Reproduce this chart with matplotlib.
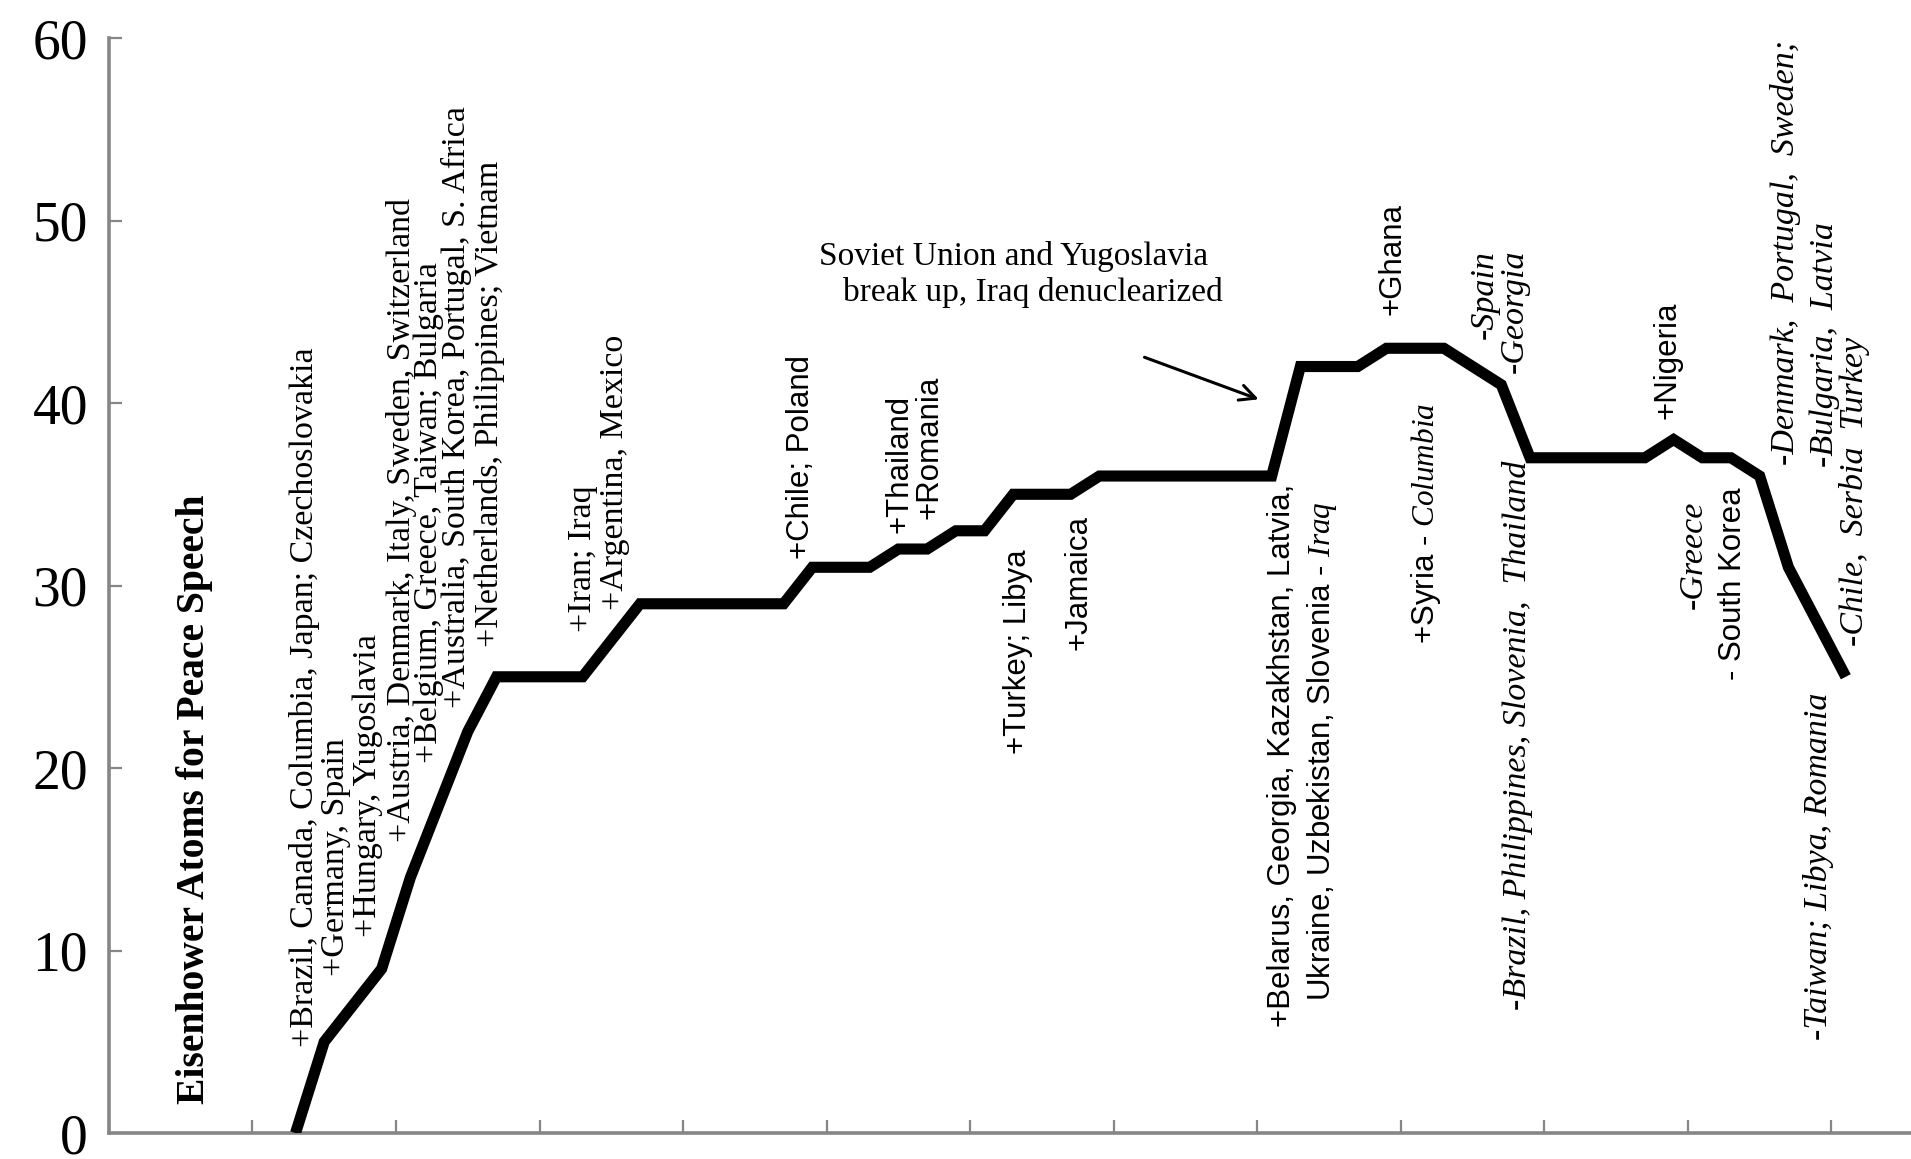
import matplotlib
matplotlib.use("Agg")
import matplotlib.pyplot as plt

# ---------------- data ----------------
years = list(range(1955, 2010))
members = [0, 5, 7, 9, 14, 18, 22, 25, 25, 25, 25, 27, 29, 29, 29, 29, 29, 29,
           31, 31, 31, 32, 32, 33, 33, 35, 35, 35, 36, 36, 36, 36, 36, 36, 36,
           42, 42, 42, 43, 43, 43, 42, 41, 37, 37, 37, 37, 37, 38, 37, 37, 36,
           31, 28, 25]
y_ticks = [0, 10, 20, 30, 40, 50, 60]
y_label = "Eisenhower Atoms for Peace Speech"
callout_lines = ["Soviet Union and Yugoslavia", "break up, Iraq denuclearized"]

# rotated annotations: text, x offset (years after 1955), y, vertical anchor, style
notes = [
    ("+Brazil, Canada, Columbia, Japan; Czechoslovakia", 0.30, 4.72, "bottom", "serif"),
    ("+Germany, Spain", 1.41, 8.6, "bottom", "serif"),
    ("+Hungary, Yugoslavia", 2.51, 10.74, "bottom", "serif"),
    ("+Austria, Denmark, Italy, Sweden, Switzerland", 3.70, 15.95, "bottom", "serif"),
    ("+Belgium, Greece, Taiwan; Bulgaria", 4.64, 20.3, "bottom", "serif"),
    ("+Australia, South Korea, Portugal, S. Africa", 5.61, 23.3, "bottom", "serif"),
    ("+Netherlands, Philippines; Vietnam", 6.76, 26.65, "bottom", "serif"),
    ("+Iran; Iraq", 9.99, 27.45, "bottom", "serif"),
    ("+Argentina, Mexico", 11.13, 28.65, "bottom", "serif"),
    ("+Chile; Poland", 17.59, 31.46, "bottom", "sans"),
    ("+Thailand", 21.03, 32.87, "bottom", "sans"),
    ("+Romania", 22.09, 33.67, "bottom", "sans"),
    ("+Turkey; Libya", 25.15, 20.77, "bottom", "sans"),
    ("+Jamaica", 27.27, 26.45, "bottom", "sans"),
    ("+Belarus, Georgia, Kazakhstan, Latvia,", 34.36, 5.79, "bottom", "sans"),
    (r"Ukraine, Uzbekistan, Slovenia - $\mathit{Iraq}$", 35.76, 7.26, "bottom", "sans"),
    ("+Ghana", 38.22, 44.83, "bottom", "sans"),
    (r"+Syria - $\mathit{Columbia}$", 39.37, 26.78, "bottom", "sans"),
    ("-Spain", 41.41, 48.4, "top", "italic"),
    ("-Georgia", 42.47, 48.4, "top", "italic"),
    ("-Brazil, Philippines, Slovenia,  Thailand", 42.55, 6.73, "bottom", "italic"),
    ("+Nigeria", 47.78, 39.1, "bottom", "sans"),
    ("-Greece", 48.71, 28.7, "bottom", "italic"),
    ("- South Korea", 50.07, 24.8, "bottom", "sans"),
    ("-Denmark,  Portugal,  Sweden;", 51.9, 36.6, "bottom", "italic"),
    ("-Bulgaria,  Latvia", 53.25, 36.5, "bottom", "italic"),
    ("-Chile,  Serbia  Turkey", 54.31, 26.7, "bottom", "italic"),
    ("-Taiwan; Libya, Romania", 53.04, 5.12, "bottom", "italic"),
]

# ---------------- style ----------------
plt.rcParams["mathtext.fontset"] = "custom"
plt.rcParams["mathtext.it"] = "Liberation Serif:italic"
plt.rcParams["mathtext.rm"] = "Liberation Serif"

SERIF = "Liberation Serif"
SANS = "Liberation Sans"
AXIS_GREY = "#868686"

fig = plt.figure(figsize=(19.11, 11.59), dpi=100)
ax = fig.add_axes([0.057, 0.0224, 0.943, 0.9448])

base = years[0]
ax.plot(years, members, color="black", lw=8.0, solid_joinstyle="miter",
        solid_capstyle="butt", zorder=3)

ax.set_ylim(0, 60)
ax.set_xlim(base - 6.5, base + 56.27)
ax.set_yticks(y_ticks)
ax.set_yticklabels([str(v) for v in y_ticks], fontfamily=SERIF, fontsize=40)
ax.set_xticks([base - 6.5 + 5 * k for k in range(13)])
ax.set_xticklabels([])

for side in ("top", "right"):
    ax.spines[side].set_visible(False)
for side in ("left", "bottom"):
    ax.spines[side].set_color(AXIS_GREY)
    ax.spines[side].set_linewidth(2.6)
ax.tick_params(axis="both", direction="in", length=9.5, width=1.6,
               color=AXIS_GREY)
ax.tick_params(axis="y", pad=15)

# y label inside the plot
ax.text(base - 3.52, 1.58, y_label, rotation=90, ha="center", va="bottom",
        fontfamily=SERIF, fontweight="bold", fontsize=28.5)

# rotated notes
for text, dx, y, va, style in notes:
    if style == "serif":
        kw = dict(fontfamily=SERIF, fontsize=24.5)
    elif style == "sans":
        kw = dict(fontfamily=SANS, fontsize=22.5)
    else:
        kw = dict(fontfamily=SERIF, fontstyle="italic", fontsize=24.5)
    ax.text(base + dx, y, text, rotation=90, ha="center", va=va, **kw)

# callout
ax.text(base + 25.02, 48.04, callout_lines[0], ha="center", va="center",
        fontfamily=SERIF, fontsize=24)
ax.text(base + 25.7, 46.04, callout_lines[1], ha="center", va="center",
        fontfamily=SERIF, fontsize=24)
ax.annotate("", xy=(base + 33.64, 40.15), xytext=(base + 29.48, 42.56),
            arrowprops=dict(arrowstyle="->", lw=2.2, color="black",
                            mutation_scale=28))

fig.savefig("out.png", dpi=100)
